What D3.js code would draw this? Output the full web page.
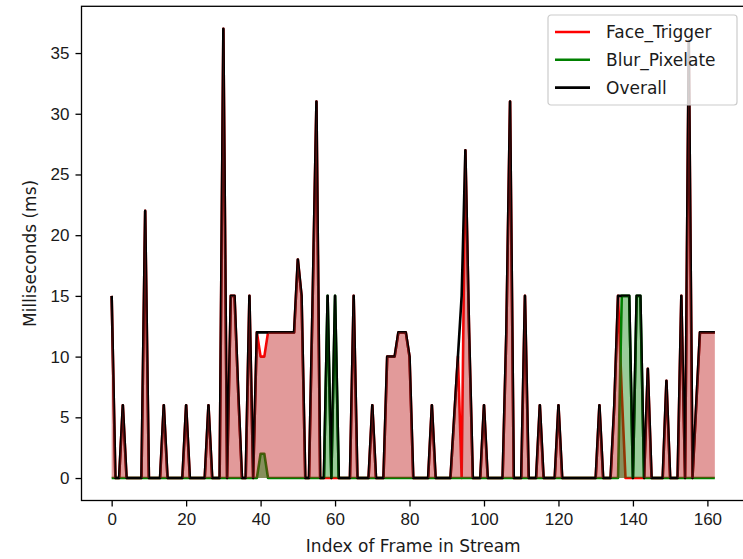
<!DOCTYPE html>
<html>
<head>
<meta charset="utf-8">
<script src="https://cdn.jsdelivr.net/npm/d3@7"></script>
<style>
  body { margin: 0; background: #fff; }
  svg { display: block; font-family: "DejaVu Sans", sans-serif; }
  .axis text { font-size: 17px; fill: #1a1a1a; }
  .axis path, .axis line { stroke: #000; stroke-width: 1.3; }
</style>
</head>
<body>
<div id="chart"></div>
<script>
// per-frame timings (ms), frame index 0..162
const overall = [
  15, 0, 0, 6, 0, 0, 0, 0, 0, 22,
  0, 0, 0, 0, 6, 0, 0, 0, 0, 0,
  6, 0, 0, 0, 0, 0, 6, 0, 0, 0,
  37, 0, 15, 15, 7, 0, 0, 15, 0, 12,
  12, 12, 12, 12, 12, 12, 12, 12, 12, 12,
  18, 15, 0, 0, 15, 31, 0, 0, 15, 0,
  15, 0, 0, 0, 0, 15, 0, 0, 0, 0,
  6, 0, 0, 0, 10, 10, 10, 12, 12, 12,
  10, 0, 0, 0, 0, 0, 6, 0, 0, 0,
  0, 0, 5, 10, 15, 27, 12, 0, 0, 0,
  6, 0, 0, 0, 0, 0, 12, 31, 0, 0,
  0, 15, 0, 0, 0, 6, 0, 0, 0, 0,
  6, 0, 0, 0, 0, 0, 0, 0, 0, 0,
  0, 6, 0, 0, 0, 6, 15, 15, 15, 15,
  0, 15, 15, 0, 9, 0, 0, 0, 0, 8,
  0, 0, 0, 15, 0, 36, 0, 6, 12, 12,
  12, 12, 12
];

const faceTrigger = [
  15, 0, 0, 6, 0, 0, 0, 0, 0, 22,
  0, 0, 0, 0, 6, 0, 0, 0, 0, 0,
  6, 0, 0, 0, 0, 0, 6, 0, 0, 0,
  37, 0, 15, 15, 7, 0, 0, 15, 0, 12,
  10, 10, 12, 12, 12, 12, 12, 12, 12, 12,
  18, 15, 0, 0, 15, 31, 0, 0, 0, 0,
  0, 0, 0, 0, 0, 15, 0, 0, 0, 0,
  6, 0, 0, 0, 10, 10, 10, 12, 12, 12,
  10, 0, 0, 0, 0, 0, 6, 0, 0, 0,
  0, 0, 5, 10, 0, 27, 12, 0, 0, 0,
  6, 0, 0, 0, 0, 0, 12, 31, 0, 0,
  0, 15, 0, 0, 0, 6, 0, 0, 0, 0,
  6, 0, 0, 0, 0, 0, 0, 0, 0, 0,
  0, 6, 0, 0, 0, 6, 15, 7, 0, 0,
  0, 0, 0, 0, 9, 0, 0, 0, 0, 8,
  0, 0, 0, 15, 0, 36, 0, 6, 12, 12,
  12, 12, 12
];

const blurPixelate = [
  0, 0, 0, 0, 0, 0, 0, 0, 0, 0,
  0, 0, 0, 0, 0, 0, 0, 0, 0, 0,
  0, 0, 0, 0, 0, 0, 0, 0, 0, 0,
  0, 0, 0, 0, 0, 0, 0, 0, 0, 0,
  2, 2, 0, 0, 0, 0, 0, 0, 0, 0,
  0, 0, 0, 0, 0, 0, 0, 0, 15, 0,
  15, 0, 0, 0, 0, 0, 0, 0, 0, 0,
  0, 0, 0, 0, 0, 0, 0, 0, 0, 0,
  0, 0, 0, 0, 0, 0, 0, 0, 0, 0,
  0, 0, 0, 0, 0, 0, 0, 0, 0, 0,
  0, 0, 0, 0, 0, 0, 0, 0, 0, 0,
  0, 0, 0, 0, 0, 0, 0, 0, 0, 0,
  0, 0, 0, 0, 0, 0, 0, 0, 0, 0,
  0, 0, 0, 0, 0, 0, 0, 15, 15, 15,
  0, 15, 15, 0, 0, 0, 0, 0, 0, 0,
  0, 0, 0, 0, 0, 0, 0, 0, 0, 0,
  0, 0, 0
];

const xTicks = [0, 20, 40, 60, 80, 100, 120, 140, 160];
const yTicks = [0, 5, 10, 15, 20, 25, 30, 35];

const series = [
  { name: 'Face_Trigger', values: faceTrigger, color: 'red' },
  { name: 'Blur_Pixelate', values: blurPixelate, color: 'green' },
  { name: 'Overall', values: overall, color: 'black' }
];

const W = 743, H = 559;
// axes box (right edge falls just outside the picture, like the reference crop)
const margin = { top: 6.3, right: -2, bottom: 58.5, left: 81.5 };

const svg = d3.select('#chart')
  .append('svg')
    .attr('width', W)
    .attr('height', H);

const n = overall.length;
const x = d3.scaleLinear()
  .domain([-(n - 1) * 0.05, (n - 1) * 1.05])
  .range([margin.left, W - margin.right]);

const yMax = d3.max(overall);
const y = d3.scaleLinear()
  .domain([-yMax * 0.05, yMax * 1.05])
  .range([H - margin.bottom, margin.top]);

const clip = svg.append('clipPath').attr('id', 'plot-clip')
  .append('rect')
    .attr('x', margin.left)
    .attr('y', margin.top)
    .attr('width', W - margin.right - margin.left)
    .attr('height', H - margin.bottom - margin.top);

const plot = svg.append('g').attr('clip-path', 'url(#plot-clip)');

const line = d3.line()
  .x((d, i) => x(i))
  .y(d => y(d));

series.forEach(s => {
  plot.append('path')
    .datum(s.values)
    .attr('fill', 'none')
    .attr('stroke', s.color)
    .attr('stroke-width', 2.6)
    .attr('stroke-linejoin', 'round')
    .attr('d', line);
});

// shaded areas sit on top of the lines, semi transparent
const area = d3.area()
  .x((d, i) => x(i))
  .y0(y(0))
  .y1(d => y(d));

plot.append('path')
  .datum(faceTrigger)
  .attr('fill', 'rgb(190,30,30)')
  .attr('fill-opacity', 0.45)
  .attr('d', area);

plot.append('path')
  .datum(blurPixelate)
  .attr('fill', 'rgb(0,128,0)')
  .attr('fill-opacity', 0.4)
  .attr('d', area);

// axes
svg.append('g')
  .attr('class', 'axis x-axis')
  .attr('transform', `translate(0,${H - margin.bottom})`)
  .call(d3.axisBottom(x).tickValues(xTicks).tickSize(6).tickPadding(6).tickSizeOuter(0));

svg.append('g')
  .attr('class', 'axis y-axis')
  .attr('transform', `translate(${margin.left},0)`)
  .call(d3.axisLeft(y).tickValues(yTicks).tickSize(6).tickPadding(6).tickSizeOuter(0));

svg.selectAll('.axis .domain').remove();

// spines
svg.append('rect')
  .attr('x', margin.left)
  .attr('y', margin.top)
  .attr('width', W - margin.right - margin.left)
  .attr('height', H - margin.bottom - margin.top)
  .attr('fill', 'none')
  .attr('stroke', '#000')
  .attr('stroke-width', 1.3);

svg.append('text')
  .attr('x', (margin.left + W - margin.right) / 2)
  .attr('y', 552)
  .attr('text-anchor', 'middle')
  .style('font-size', '17px')
  .style('fill', '#1a1a1a')
  .text('Index of Frame in Stream');

svg.append('text')
  .attr('transform', `translate(36,${(margin.top + H - margin.bottom) / 2}) rotate(-90)`)
  .attr('text-anchor', 'middle')
  .style('font-size', '17px')
  .style('fill', '#1a1a1a')
  .text('Milliseconds (ms)');

// legend
const legend = svg.append('g')
  .attr('transform', 'translate(548,15)');

legend.append('rect')
  .attr('width', 189)
  .attr('height', 90)
  .attr('rx', 3)
  .attr('fill', '#fff')
  .attr('fill-opacity', 0.8)
  .attr('stroke', '#ccc')
  .attr('stroke-width', 1.2);

const rows = legend.selectAll('.legend-row')
  .data(series)
  .enter().append('g')
    .attr('class', 'legend-row')
    .attr('transform', (d, i) => `translate(0,${17 + i * 27.8})`);

rows.append('line')
  .attr('x1', 7)
  .attr('x2', 42)
  .attr('stroke', d => d.color)
  .attr('stroke-width', 2.6);

rows.append('text')
  .attr('x', 58)
  .attr('dy', '0.35em')
  .style('font-size', '17px')
  .style('fill', '#1a1a1a')
  .text(d => d.name);
</script>
</body>
</html>
